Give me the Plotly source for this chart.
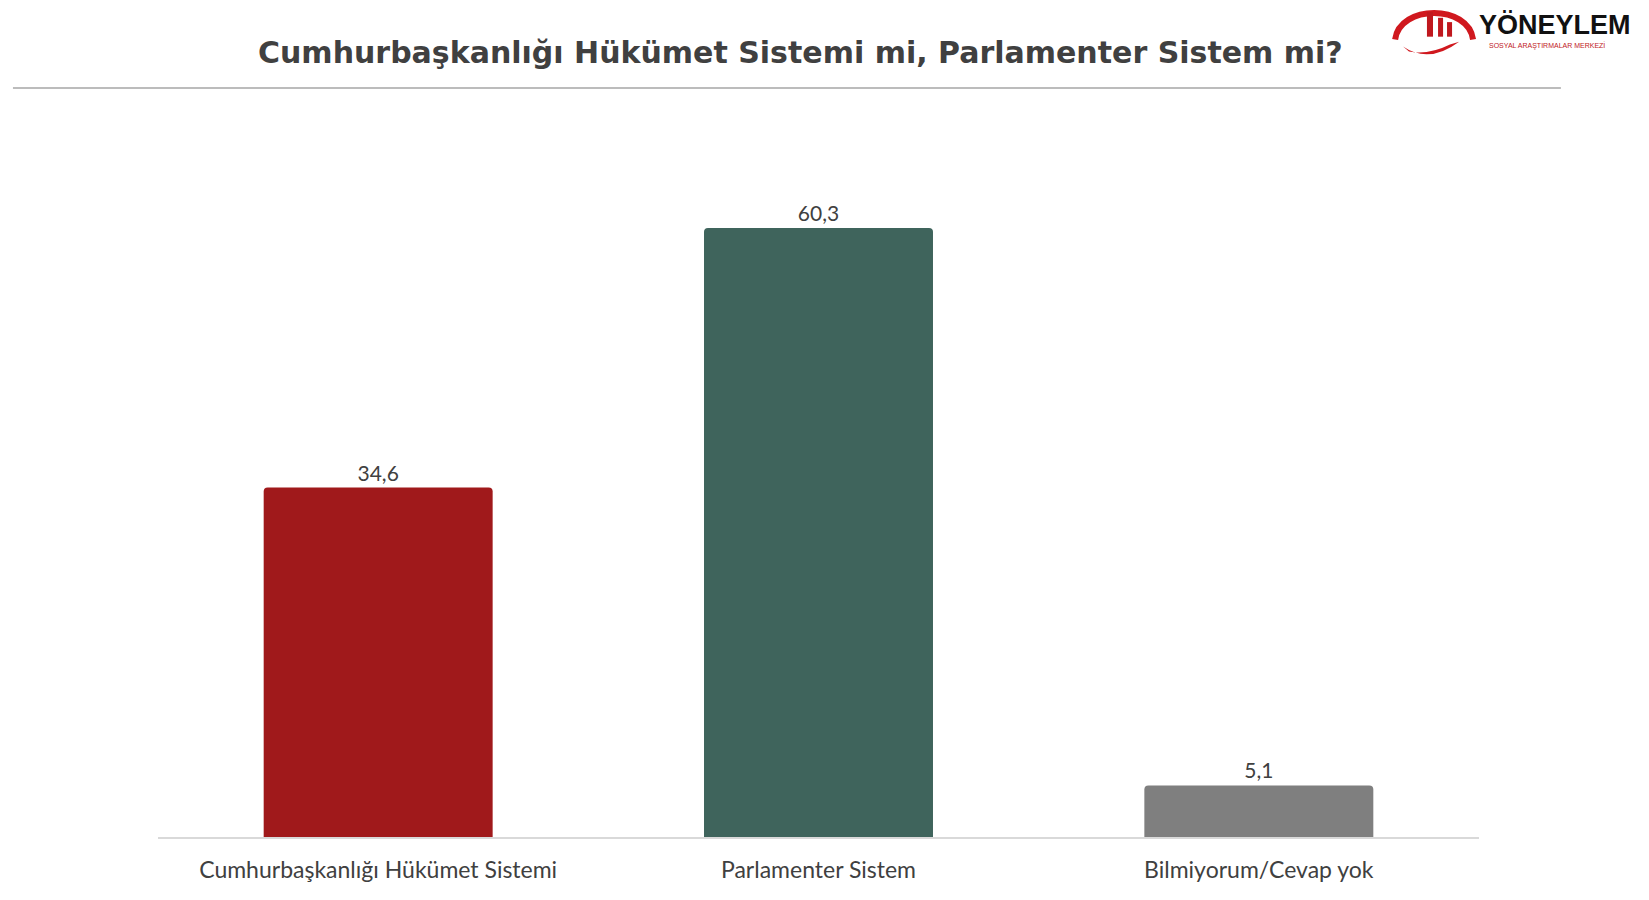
import plotly.graph_objects as go

categories = ["Cumhurbaşkanlığı Hükümet Sistemi", "Parlamenter Sistem", "Bilmiyorum/Cevap yok"]
values = [34.6, 60.3, 5.1]
colors = ["#A0191B", "#3F645C", "#7F7F7F"]
labels = [f"{v:.1f}".replace(".", ",") for v in values]

title_text = "Cumhurbaşkanlığı Hükümet Sistemi mi, Parlamenter Sistem mi?"

fig = go.Figure()
fig.add_trace(go.Bar(
    x=categories, y=values, text=labels, textposition="outside",
    textfont=dict(family="Lato, Open Sans, sans-serif", size=21, color="#404040"),
    marker=dict(color=colors, cornerradius=4, line=dict(width=0)),
    width=0.52, cliponaxis=False, hoverinfo="skip",
))

fig.update_layout(
    width=1641, height=892,
    margin=dict(l=150, r=170, t=122, b=63, autoexpand=False),
    paper_bgcolor="white", plot_bgcolor="white",
    showlegend=False,
    xaxis=dict(showgrid=False, showline=True, linecolor="#D9D9D9", linewidth=2,
               ticks="", ticklabelstandoff=11, automargin=False,
               tickfont=dict(family="Lato, Open Sans, sans-serif", size=23, color="#404040")),
    yaxis=dict(range=[0, 70], visible=False, showgrid=False, zeroline=False, automargin=False),
    shapes=[
        dict(type="line", xref="paper", yref="paper", x0=-0.1098, x1=1.062, y0=1.0594, y1=1.0594,
             line=dict(color="#A6A6A6", width=1.5)),
        # logo arc
        dict(type="path", xref="paper", yref="paper",
             path="M 0.9365 1.128 C 0.940 1.178 0.992 1.178 0.9955 1.128",
             line=dict(color="#D0181E", width=6)),
        # logo hand
        dict(type="path", xref="paper", yref="paper",
             path="M 0.9425 1.118 Q 0.962 1.093 0.985 1.125 L 0.978 1.121 Q 0.962 1.106 0.947 1.111 Z",
             fillcolor="#D0181E", line=dict(width=0)),
    ],
    annotations=[
        dict(text=f"<b>{title_text}</b>", x=0.486, y=1.109, xref="paper", yref="paper",
             showarrow=False, xanchor="center", yanchor="middle",
             font=dict(family="DejaVu Sans, sans-serif", size=30, color="#404040")),
        dict(text="<b>YÖNEYLEM</b>", x=0.9985, y=1.148, xref="paper", yref="paper",
             showarrow=False, xanchor="left", yanchor="middle",
             font=dict(family="Liberation Sans, Arial, sans-serif", size=27, color="#111111")),
        dict(text="SOSYAL ARAŞTIRMALAR MERKEZİ", x=1.006, y=1.120, xref="paper", yref="paper",
             showarrow=False, xanchor="left", yanchor="middle",
             font=dict(family="Liberation Sans, Arial, sans-serif", size=7, color="#C0181E")),
    ],
)

# small logo bars
for x0, x1, top in [(0.9606, 0.9652, 1.1666), (0.969, 0.9728, 1.1587), (0.9758, 0.9796, 1.1526)]:
    fig.add_shape(type="rect", xref="paper", yref="paper", x0=x0, x1=x1,
                  y0=1.132, y1=top, fillcolor="#C0181E", line=dict(width=0))

fig.write_html("out.html")
